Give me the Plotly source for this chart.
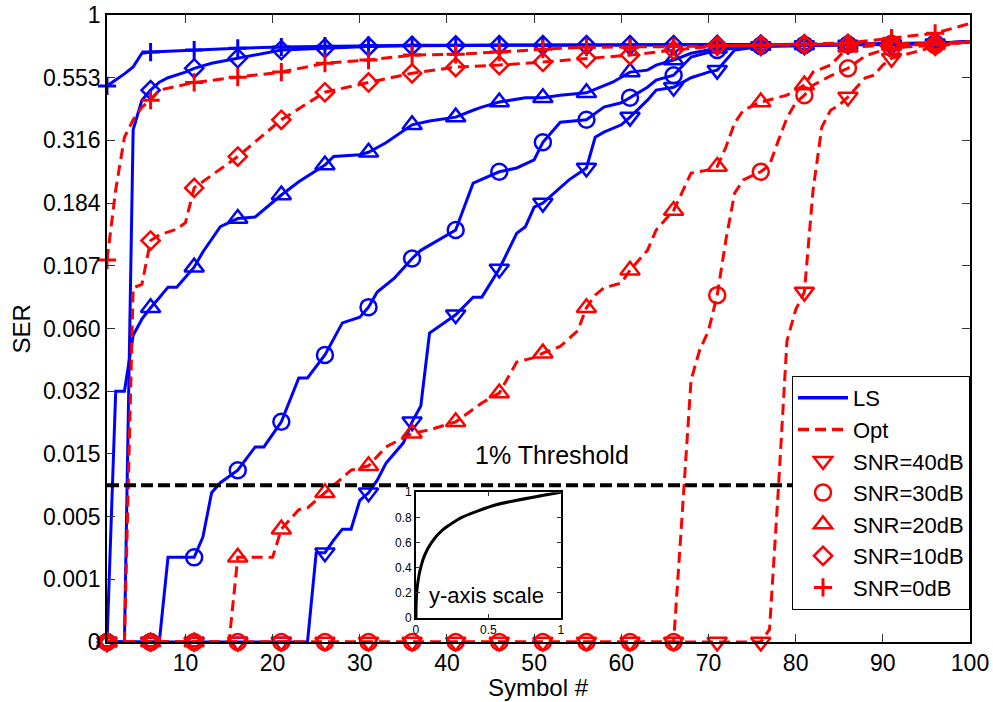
import numpy as np
import plotly.graph_objects as go

# ---- y-axis scale (tick values at evenly spaced display positions) ----
TICK_VALS = [0, 0.001, 0.005, 0.015, 0.032, 0.060, 0.107, 0.184, 0.316, 0.553, 1.0]
TICK_TEXT = ["0", "0.001", "0.005", "0.015", "0.032", "0.060", "0.107", "0.184", "0.316", "0.553", "1"]
X_TICKS = [10, 20, 30, 40, 50, 60, 70, 80, 90, 100]
THRESHOLD = 0.01

# ---- LS (blue, solid) ----
LS40_X = [1, 6, 11, 16, 21, 24, 25, 26, 27, 28, 29, 30, 31, 32, 33, 35, 36, 37, 38, 39, 41, 43, 44, 46, 47, 48, 49, 50, 51, 53, 54, 56, 57, 58, 60, 61, 63, 64, 66, 68, 70, 71, 73, 76, 81, 86, 91, 96, 100]
LS40_Y = [0, 0, 0, 0, 0, 0, 0.0027, 0.0027, 0.0035, 0.0042, 0.0042, 0.0076, 0.0088, 0.0108, 0.0135, 0.018, 0.0237, 0.028, 0.058, 0.061, 0.0703, 0.0835, 0.0835, 0.1046, 0.126, 0.147, 0.155, 0.179, 0.184, 0.218, 0.233, 0.258, 0.328, 0.347, 0.375, 0.404, 0.468, 0.506, 0.517, 0.553, 0.593, 0.607, 0.75, 0.775, 0.782, 0.787, 0.79, 0.795, 0.81]

LS30_X = [1, 6, 7, 8, 11, 12, 13, 14, 16, 18, 19, 21, 23, 24, 26, 28, 30, 31, 32, 34, 36, 37, 39, 41, 43, 46, 48, 50, 51, 53, 56, 58, 60, 61, 63, 64, 66, 68, 70, 71, 76, 81, 86, 91, 96, 100]
LS30_Y = [0, 0, 0, 0.0024, 0.0024, 0.0037, 0.0088, 0.0104, 0.0124, 0.0169, 0.0169, 0.0237, 0.0379, 0.0379, 0.0482, 0.0642, 0.0685, 0.076, 0.0873, 0.098, 0.116, 0.126, 0.139, 0.151, 0.226, 0.25, 0.258, 0.275, 0.312, 0.385, 0.394, 0.442, 0.458, 0.477, 0.517, 0.544, 0.571, 0.70, 0.736, 0.75, 0.78, 0.787, 0.79, 0.793, 0.798, 0.81]

LS20_X = [1, 2, 3, 4, 5, 6, 7, 8, 9, 10, 11, 12, 13, 14, 16, 18, 21, 23, 26, 27, 30, 31, 33, 36, 38, 41, 43, 44, 46, 49, 51, 53, 56, 59, 61, 63, 64, 66, 68, 71, 76, 81, 86, 91, 96, 100]
LS20_Y = [0, 0.032, 0.032, 0.057, 0.067, 0.0755, 0.083, 0.091, 0.091, 0.0985, 0.106, 0.124, 0.139, 0.155, 0.165, 0.167, 0.201, 0.229, 0.264, 0.282, 0.286, 0.291, 0.311, 0.375, 0.389, 0.404, 0.43, 0.442, 0.461, 0.477, 0.477, 0.487, 0.496, 0.536, 0.593, 0.607, 0.643, 0.679, 0.727, 0.763, 0.782, 0.787, 0.79, 0.793, 0.798, 0.81]

LS10_X = [1, 3, 4, 5, 6, 7, 8, 9, 10, 11, 13, 16, 21, 26, 31, 36, 41, 46, 51, 56, 61, 66, 71, 76, 81, 86, 91, 96, 100]
LS10_Y = [0, 0, 0.356, 0.468, 0.506, 0.536, 0.553, 0.571, 0.593, 0.62, 0.656, 0.692, 0.75, 0.763, 0.775, 0.78, 0.783, 0.785, 0.785, 0.785, 0.785, 0.786, 0.787, 0.789, 0.79, 0.792, 0.795, 0.80, 0.81]

LS0_X = [1, 3, 4, 5, 6, 11, 16, 21, 26, 31, 36, 41, 46, 51, 56, 61, 66, 71, 76, 81, 86, 91, 96, 100]
LS0_Y = [0.522, 0.58, 0.63, 0.727, 0.736, 0.75, 0.763, 0.772, 0.778, 0.782, 0.785, 0.785, 0.785, 0.785, 0.785, 0.785, 0.786, 0.787, 0.789, 0.79, 0.792, 0.795, 0.80, 0.81]

# ---- Opt (red, dashed) ----
OPT40_X = [1, 6, 11, 16, 21, 26, 31, 36, 41, 46, 51, 56, 61, 66, 71, 76, 77, 78, 79, 80, 81, 82, 83, 84, 85, 86, 87, 88, 89, 90, 91, 96, 100]
OPT40_Y = [0, 0, 0, 0, 0, 0, 0, 0, 0, 0, 0, 0, 0, 0, 0, 0, 0.0002, 0.009, 0.0544, 0.074, 0.0873, 0.212, 0.366, 0.43, 0.449, 0.48, 0.517, 0.553, 0.571, 0.643, 0.692, 0.775, 0.81]

OPT30_X = [1, 6, 11, 16, 21, 26, 31, 36, 41, 46, 51, 56, 61, 66, 67, 68, 69, 70, 71, 72, 73, 74, 76, 77, 78, 79, 80, 81, 82, 84, 86, 88, 90, 91, 96, 100]
OPT30_Y = [0, 0, 0, 0, 0, 0, 0, 0, 0, 0, 0, 0, 0, 0, 0.0057, 0.037, 0.0505, 0.059, 0.085, 0.139, 0.205, 0.233, 0.25, 0.264, 0.315, 0.401, 0.458, 0.487, 0.525, 0.566, 0.62, 0.709, 0.75, 0.765, 0.785, 0.81]

OPT20_X = [1, 6, 11, 15, 16, 20, 21, 23, 24, 26, 28, 29, 31, 33, 36, 38, 41, 43, 44, 46, 48, 50, 51, 53, 55, 56, 57, 58, 60, 61, 63, 64, 66, 68, 70, 71, 72, 73, 74, 76, 79, 81, 82, 84, 86, 91, 96, 100]
OPT20_Y = [0, 0, 0, 0, 0.0024, 0.0024, 0.0042, 0.0061, 0.0064, 0.0088, 0.0113, 0.0124, 0.0131, 0.0169, 0.0206, 0.0215, 0.0237, 0.027, 0.0288, 0.0315, 0.045, 0.047, 0.049, 0.052, 0.059, 0.0755, 0.085, 0.0905, 0.094, 0.1037, 0.126, 0.151, 0.175, 0.247, 0.254, 0.261, 0.302, 0.382, 0.43, 0.461, 0.487, 0.525, 0.593, 0.643, 0.77, 0.785, 0.79, 0.81]

OPT10_X = [1, 3, 4, 5, 6, 7, 9, 10, 11, 16, 21, 26, 31, 36, 41, 46, 51, 56, 61, 66, 71, 76, 81, 86, 91, 96, 100]
OPT10_Y = [0, 0, 0.0905, 0.093, 0.138, 0.145, 0.152, 0.16, 0.216, 0.282, 0.394, 0.498, 0.535, 0.584, 0.629, 0.643, 0.665, 0.692, 0.714, 0.75, 0.78, 0.785, 0.79, 0.792, 0.795, 0.80, 0.81]

OPT0_X = [1, 2, 3, 4, 5, 6, 7, 9, 11, 16, 21, 26, 31, 36, 41, 46, 51, 56, 61, 66, 71, 76, 81, 86, 91, 96, 100]
OPT0_Y = [0.114, 0.212, 0.328, 0.394, 0.442, 0.468, 0.506, 0.52, 0.535, 0.557, 0.593, 0.656, 0.679, 0.714, 0.72, 0.736, 0.756, 0.77, 0.77, 0.775, 0.78, 0.785, 0.79, 0.80, 0.835, 0.87, 0.94]

SNR_LABELS = ["SNR=40dB", "SNR=30dB", "SNR=20dB", "SNR=10dB", "SNR=0dB"]
SYMBOLS = ["triangle-down-open", "circle-open", "triangle-up-open", "diamond-open", "cross-thin-open"]
MARKER_EVERY = 5

BLUE = "#0000FF"
RED = "#FF0000"
FONT = "Liberation Sans, Arial, sans-serif"


def disp(vals):
    """Map SER values onto the chart's evenly spaced tick positions."""
    return np.interp(np.asarray(vals, dtype=float), TICK_VALS, np.arange(len(TICK_VALS)))


LS = [(LS40_X, LS40_Y), (LS30_X, LS30_Y), (LS20_X, LS20_Y), (LS10_X, LS10_Y), (LS0_X, LS0_Y)]
OPT = [(OPT40_X, OPT40_Y), (OPT30_X, OPT30_Y), (OPT20_X, OPT20_Y), (OPT10_X, OPT10_Y), (OPT0_X, OPT0_Y)]

MARKER_SIZE = {"triangle-down-open": 17, "triangle-up-open": 17, "circle-open": 16,
               "diamond-open": 14, "cross-thin-open": 13}

fig = go.Figure()


def marker_style(symbol, color):
    width = 3 if symbol.startswith("cross") else 2.5
    return dict(symbol=symbol, size=MARKER_SIZE[symbol], color=color,
                line=dict(width=width, color=color))


def add_series(xs, ys, color, dash, symbol):
    fig.add_trace(go.Scatter(x=xs, y=disp(ys), mode="lines",
                             line=dict(color=color, width=3, dash=dash),
                             showlegend=False, cliponaxis=False, hoverinfo="skip"))
    mx = [x for x in xs if (x - 1) % MARKER_EVERY == 0 and x < 100]
    my = [y for x, y in zip(xs, ys) if (x - 1) % MARKER_EVERY == 0 and x < 100]
    fig.add_trace(go.Scatter(x=mx, y=disp(my), mode="markers",
                             marker=marker_style(symbol, color),
                             showlegend=False, cliponaxis=False, hoverinfo="skip"))


for (xs, ys), sym in zip(LS, SYMBOLS):
    add_series(xs, ys, BLUE, "solid", sym)
for (xs, ys), sym in zip(OPT, SYMBOLS):
    add_series(xs, ys, RED, "11px,6px", sym)

# 1% threshold
fig.add_trace(go.Scatter(x=[1, 100], y=disp([THRESHOLD, THRESHOLD]), mode="lines",
                         line=dict(color="black", width=4, dash="12px,5px"),
                         showlegend=False, cliponaxis=False, hoverinfo="skip"))

# legend entries
fig.add_trace(go.Scatter(x=[None], y=[None], mode="lines", name="LS",
                         line=dict(color=BLUE, width=3.5)))
fig.add_trace(go.Scatter(x=[None], y=[None], mode="lines", name="Opt",
                         line=dict(color=RED, width=3.5, dash="11px,6px")))
for lab, sym in zip(SNR_LABELS, SYMBOLS):
    fig.add_trace(go.Scatter(x=[None], y=[None], mode="markers", name=lab,
                             marker=marker_style(sym, RED)))

# inset: y-axis scale
fig.add_trace(go.Scatter(x=TICK_VALS, y=np.arange(len(TICK_VALS)) / (len(TICK_VALS) - 1),
                         xaxis="x2", yaxis="y2", mode="lines",
                         line=dict(color="black", width=3, shape="spline", smoothing=0.6),
                         showlegend=False, hoverinfo="skip"))

axis_common = dict(showline=True, linecolor="black", linewidth=1.5, mirror="ticks",
                   ticks="inside", ticklen=8, tickwidth=1, tickcolor="#333333",
                   showgrid=False, zeroline=False, automargin=False,
                   tickfont=dict(family=FONT, size=23, color="black"))
inset_common = dict(showline=True, linecolor="black", linewidth=1.5, mirror="ticks",
                    ticks="inside", ticklen=4, tickcolor="#333333", showgrid=False,
                    zeroline=False, automargin=False,
                    tickfont=dict(family=FONT, size=12, color="black"))

fig.update_layout(
    template="none",
    width=993, height=702,
    margin=dict(l=107, r=23, t=15, b=60),
    paper_bgcolor="white", plot_bgcolor="white",
    font=dict(family=FONT, color="black"),
    xaxis=dict(range=[1, 100], tickvals=X_TICKS, **axis_common),
    yaxis=dict(range=[0, len(TICK_VALS) - 1], tickvals=list(range(len(TICK_VALS))),
               ticktext=TICK_TEXT, **axis_common),
    xaxis2=dict(domain=[0.358, 0.526], anchor="y2", range=[0, 1],
                tickvals=[0, 0.5, 1], ticktext=["0", "0.5", "1"], **inset_common),
    yaxis2=dict(domain=[0.038, 0.239], anchor="x2", range=[0, 1],
                tickvals=[0, 0.2, 0.4, 0.6, 0.8, 1],
                ticktext=["0", "0.2", "0.4", "0.6", "0.8", "1"], **inset_common),
    showlegend=True,
    legend=dict(x=1.0, xanchor="right", y=0.051, yanchor="bottom",
                bgcolor="white", bordercolor="black", borderwidth=1,
                itemwidth=50,
                font=dict(family=FONT, size=22, color="black"), tracegroupgap=0),
    annotations=[
        dict(text="SER", x=-0.0985, y=0.5, xref="paper", yref="paper", textangle=-90,
             xanchor="center", yanchor="middle",
             showarrow=False, font=dict(size=24, family=FONT)),
        dict(text="Symbol #", x=0.5, y=-0.0718, xref="paper", yref="paper",
             xanchor="center", yanchor="middle",
             showarrow=False, font=dict(size=24, family=FONT)),
        dict(text="1% Threshold", x=52, y=float(disp(THRESHOLD)), xref="x", yref="y",
             xanchor="center", yanchor="middle",
             yshift=30, showarrow=False, font=dict(size=25, family=FONT)),
        dict(text="y-axis scale", x=0.49, y=0.18, xref="x2", yref="y2",
             xanchor="center", yanchor="middle",
             showarrow=False, font=dict(size=22, family=FONT)),
    ],
)

fig.write_html("out.html")
